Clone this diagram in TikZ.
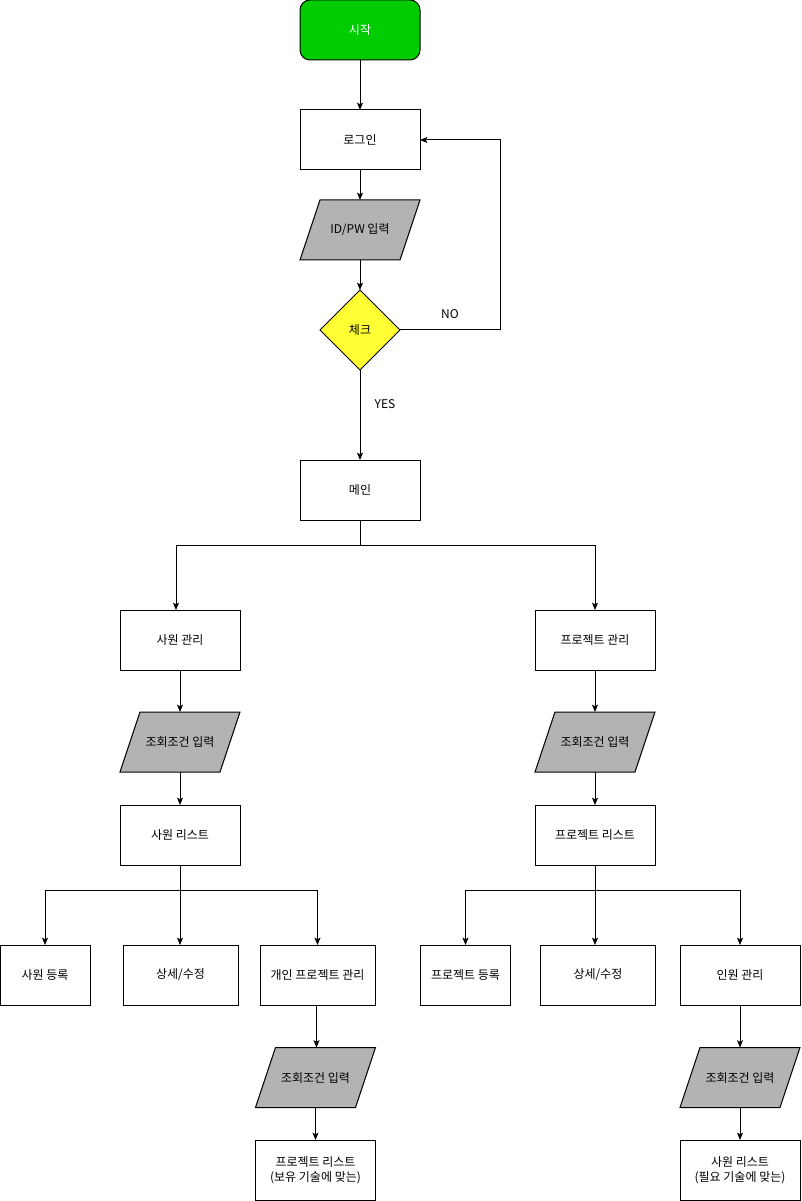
\documentclass[tikz,border=0pt]{standalone}
\usepackage{fontspec}
\newfontfamily\kr{Noto Sans CJK KR}
\usetikzlibrary{shapes.geometric,arrows.meta,calc}
\definecolor{startgreen}{HTML}{00CC00}
\definecolor{iogray}{HTML}{B3B3B3}
\definecolor{chkyellow}{HTML}{FFFF33}
\begin{document}
\begin{tikzpicture}[x=0.75pt,y=-0.75pt,
  every node/.style={font=\kr\fontsize{9}{11.5}\selectfont, inner sep=0pt, outer sep=0pt, align=center},
  box/.style={draw, line width=0.75pt, fill=white, minimum width=90pt, minimum height=45pt},
  smallbox/.style={box, minimum width=67.5pt},
  midbox/.style={box, minimum width=86.25pt},
  iobox/.style={minimum width=90pt, minimum height=45pt},
  startbox/.style={box, fill=startgreen, rounded corners=7.5pt, text=white},
  chk/.style={diamond, draw, line width=0.75pt, fill=chkyellow, minimum width=60pt, minimum height=60pt},
  lbl/.style={},
  arr/.style={draw, line width=0.75pt, -{Stealth[length=5.5pt,width=4.5pt,inset=1.2pt]}},
  ln/.style={draw, line width=0.75pt}
]
\useasboundingbox (0,0) rectangle (801,1201);
\newcommand\pgramshape[1]{%
  \filldraw[fill=iogray, draw=black, line width=0.75pt]
    ($(#1)+(-40,-30)$) -- ($(#1)+(60,-30)$) -- ($(#1)+(40,30)$) -- ($(#1)+(-60,30)$) -- cycle;}

% top column
\node[startbox] (start) at (360,30) {시작};
\node[box] (login) at (360,140) {로그인};
\coordinate (idpwc) at (360,230);
\pgramshape{idpwc}
\node[iobox] (idpw) at (idpwc) {ID/PW 입력};
\node[chk] (check) at (360,330) {체크};
\node[lbl] (no) at (450,314) {NO};
\node[lbl] (yes) at (385,404) {YES};
\node[box] (main) at (360,490) {메인};

\draw[arr] (start) -- (login);
\draw[arr] (login) -- (idpw);
\draw[arr] (idpw) -- (check);
\draw[arr] (check.east) -- ++(100,0) |- (login.east);
\draw[arr] (check) -- (main);

% left branch
\node[box] (sm) at (180,640) {사원 관리};
\coordinate (in1c) at (180,742);
\pgramshape{in1c}
\node[iobox] (in1) at (in1c) {조회조건 입력};
\node[box] (sl) at (180,835) {사원 리스트};

% right branch
\node[box] (pm) at (595,640) {프로젝트 관리};
\coordinate (in2c) at (595,742);
\pgramshape{in2c}
\node[iobox] (in2) at (in2c) {조회조건 입력};
\node[box] (plist) at (595,835) {프로젝트 리스트};

\draw[arr] (main.south) -- ++(0,25) -| ([xshift=-3pt]sm.north);
\draw[arr] (main.south) -- ++(0,25) -| (pm.north);
\draw[arr] (sm) -- (in1);
\draw[arr] (in1) -- (sl);
\draw[arr] (pm) -- (in2);
\draw[arr] (in2) -- (plist);

% left sub-branch
\node[smallbox] (reg1) at (45,975) {사원 등록};
\node[midbox] (det1) at (180.5,975) {상세/수정};
\node[midbox] (per1) at (317.5,975) {개인 프로젝트 관리};
\coordinate (in3c) at (315.5,1077.5);
\pgramshape{in3c}
\node[iobox] (in3) at (in3c) {조회조건 입력};
\node[box] (pl2) at (315.5,1170) {프로젝트 리스트\\(보유 기술에 맞는)};

\draw[arr] (sl.south) -- ++(0,25) -| (reg1.north);
\draw[arr] (sl.south) -- (sl.south |- det1.north);
\draw[arr] (sl.south) -- ++(0,25) -| (per1.north);
\draw[arr] ([xshift=-0.75pt]per1.south) -- ([xshift=-0.75pt]per1.south |- in3.north);
\draw[arr] (in3) -- (pl2);

% right sub-branch
\node[smallbox] (reg2) at (465.5,975) {프로젝트 등록};
\node[midbox] (det2) at (598,975) {상세/수정};
\node[box] (hr) at (740,975) {인원 관리};
\coordinate (in4c) at (740,1077.5);
\pgramshape{in4c}
\node[iobox] (in4) at (in4c) {조회조건 입력};
\node[box] (sl2) at (740,1170) {사원 리스트\\(필요 기술에 맞는)};

\draw[arr] (plist.south) -- ++(0,25) -| (reg2.north);
\draw[arr] (plist.south) -- (plist.south |- det2.north);
\draw[arr] (plist.south) -- ++(0,25) -| (hr.north);
\draw[arr] (hr) -- (in4);
\draw[arr] (in4) -- (sl2);
\end{tikzpicture}
\end{document}
